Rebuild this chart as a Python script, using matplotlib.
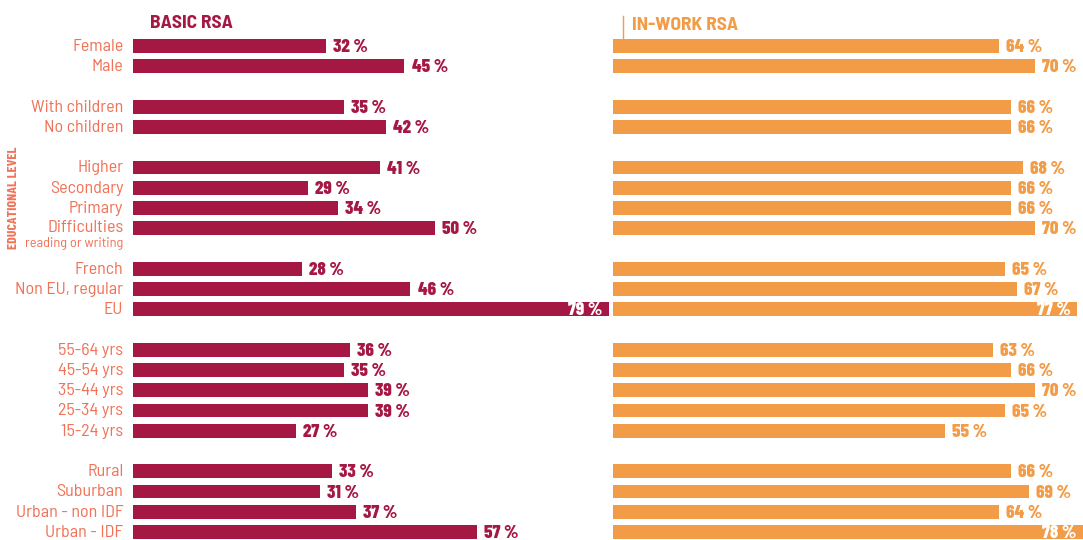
import matplotlib
matplotlib.use("Agg")
import matplotlib.pyplot as plt

CRIMSON = '#A51843'
ORANGE = '#F39C47'
SALMON = '#F07358'
FONT = ['Barlow Condensed', 'Liberation Sans', 'DejaVu Sans']
FONT_SEMI = ['Barlow Semi Condensed', 'Liberation Sans', 'DejaVu Sans']

categories = ["Female", "Male",
              "With children", "No children",
              "Higher", "Secondary", "Primary", "Difficulties",
              "French", "Non EU, regular", "EU",
              "55-64 yrs", "45-54 yrs", "35-44 yrs", "25-34 yrs", "15-24 yrs",
              "Rural", "Suburban", "Urban - non IDF", "Urban - IDF"]
rows = [0, 1, 3, 4, 6, 7, 8, 9, 11, 12, 13, 15, 16, 17, 18, 19, 21, 22, 23, 24]
basic_rsa = [32, 45, 35, 42, 41, 29, 34, 50, 28, 46, 79,
             36, 35, 39, 39, 27, 33, 31, 37, 57]
inwork_rsa = [64, 70, 66, 66, 68, 66, 66, 70, 65, 67, 77,
              63, 66, 70, 65, 55, 66, 69, 64, 78]

W, H = 1083, 540
fig = plt.figure(figsize=(W / 100, H / 100), dpi=100)
fig.patch.set_facecolor('white')

# row i sits at 46 + i*20.25 px from top; axes run from 30 px to 540 px
top_px, bot_px = 30, 540
ylim = ((bot_px - 46) / 20.25, (top_px - 46) / 20.25)
px_per_pct = 6.03


def make_ax(left_px, xmax):
    ax = fig.add_axes([left_px / W, 1 - bot_px / H, xmax * px_per_pct / W,
                       (bot_px - top_px) / H])
    ax.set_xlim(0, xmax)
    ax.set_ylim(*ylim)
    ax.axis('off')
    return ax


ax1 = make_ax(133, 80)
ax2 = make_ax(613, (W - 613) / px_per_pct)

ax1.barh(rows, basic_rsa, height=0.68, color=CRIMSON)
ax2.barh(rows, inwork_rsa, height=0.68, color=ORANGE)

for ax, vals, col in [(ax1, basic_rsa, CRIMSON), (ax2, inwork_rsa, ORANGE)]:
    for r, v in zip(rows, vals):
        label = f"{v}\u2009%"
        if v >= 75:
            ax.text(v - 1.1, r + 0.05, label, ha='right', va='center', fontsize=13.5,
                    color='white', fontweight=800, family=FONT)
        else:
            ax.text(v + 1.2, r + 0.05, label, ha='left', va='center', fontsize=13.5,
                    color=col, fontweight=800, family=FONT, clip_on=False)

# category labels
for r, c in zip(rows, categories):
    y = r + 0.02 if c != "Difficulties" else r - 0.05
    ax1.text(-1.6, y, c, ha='right', va='center', fontsize=13, color=SALMON,
             family=FONT_SEMI, clip_on=False)
ax1.text(-1.6, 9.75, "reading or writing", ha='right', va='center', fontsize=10.3,
         color=SALMON, family=FONT_SEMI, clip_on=False)

# panel titles
fig.text(150 / W, 1 - 23 / H, "BASIC RSA", ha='left', va='center', fontsize=14,
         fontweight='bold', color=CRIMSON, family=FONT_SEMI)
fig.text(632 / W, 1 - 25 / H, "IN-WORK RSA", ha='left', va='center', fontsize=14,
         fontweight='bold', color=ORANGE, family=FONT_SEMI)
fig.add_artist(plt.Line2D([623 / W, 623 / W], [1 - 16 / H, 1 - 38 / H],
                          color=ORANGE, lw=1))

# group label
fig.text(14 / W, 1 - 198 / H, "EDUCATIONAL LEVEL", rotation=90, ha='center',
         va='center', fontsize=10, fontweight='bold', color=SALMON, family=FONT)

fig.savefig("out.png", dpi=100, facecolor='white')
